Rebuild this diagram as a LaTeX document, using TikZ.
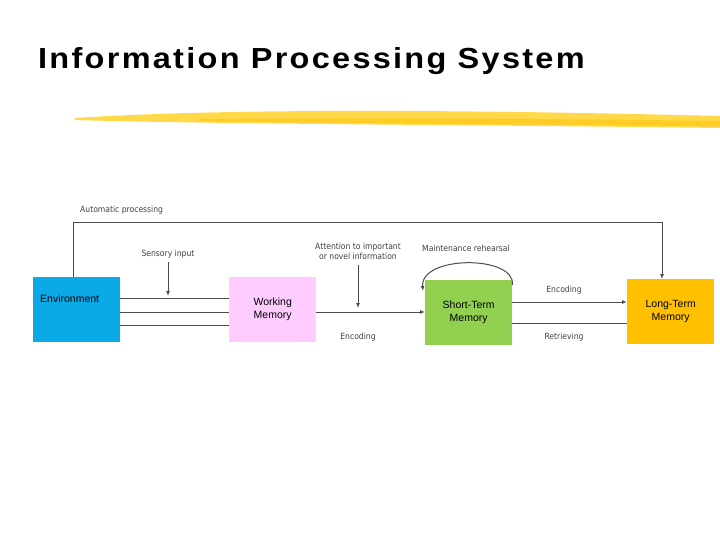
\documentclass[tikz,border=0pt]{standalone}
\usepackage{fontspec}
\setmainfont{Liberation Sans}
\newfontfamily\condfont{DejaVu Sans Condensed}
\usetikzlibrary{arrows.meta}
\definecolor{envc}{HTML}{0AAAE6}
\definecolor{wmc}{HTML}{FFCCFF}
\definecolor{stmc}{HTML}{92D050}
\definecolor{ltmc}{HTML}{FFC000}
\definecolor{brush}{HTML}{FFD94A}
\begin{document}
\begin{tikzpicture}[x=1pt,y=-1pt,
  box/.style={draw=none,minimum width=87pt,minimum height=65pt,inner sep=0pt,font=\fontsize{10.5}{13}\selectfont,align=center},
  lbl/.style={font=\fontsize{8.5}{10}\condfont,text=black!75,align=center,inner sep=0pt},
  ln/.style={draw=black!70,line width=1pt},
  ar/.style={ln,-{Latex[length=5pt,width=4pt]}}]
\useasboundingbox (0,0) rectangle (720,540);
\node[anchor=west,font=\fontsize{29}{32}\bfseries\selectfont,inner sep=0pt,xscale=1.12] (title) at (38,61) {\addfontfeature{LetterSpace=7}Information Processing System};
\fill[brush] (75,118) .. controls (200,110) and (400,108) .. (720,116) -- (720,128) .. controls (500,125) and (200,124) .. (75,120) -- cycle;
\fill[ltmc,opacity=0.5] (200,119) .. controls (350,118) and (500,118) .. (720,121) -- (720,126) .. controls (500,124) and (350,123) .. (200,121) -- cycle;
\node[box,fill=envc,anchor=north west] (env) at (33,277) {};
\node[anchor=north west,font=\fontsize{10.5}{13}\selectfont,inner sep=0pt] (envt) at (40,295) {Environment};
\node[box,fill=wmc,anchor=north west] (wm) at (229,277) {Working\\Memory};
\node[box,fill=stmc,anchor=north west] (stm) at (425,280) {Short-Term\\Memory};
\node[box,fill=ltmc,anchor=north west] (ltm) at (627,279) {Long-Term\\Memory};
\coordinate (a1) at (73,277); \coordinate (a2) at (73,223); \coordinate (a3) at (662,223);
\draw[ar] (a1) -- (a2) -- (a3) -- (ltm.north -| a3);
\node[lbl,anchor=west] (ap) at (80,210) {Automatic processing};
\draw[ln] (env.east |- 0,298) -- (wm.west |- 0,298);
\draw[ln] (env.east |- 0,312) -- (wm.west |- 0,312);
\draw[ln] (env.east |- 0,325) -- (wm.west |- 0,325);
\node[lbl] (si) at (168,254) {Sensory input};
\draw[ar] (si.south |- 0,262) -- (168,296);
\draw[ar] (wm.east |- 0,312) -- (stm.west |- 0,312);
\node[lbl] (att) at (358,251) {Attention to important\\or novel information};
\draw[ar] (358,265) -- (358,308);
\node[lbl] (enc1) at (358,337) {Encoding};
\draw[ar] (stm.north east) ++(0,5) .. controls (516,255) and (420,255) .. (423,291);
\node[lbl] (mr) at (466,248) {Maintenance rehearsal};
\draw[ar] (stm.east |- 0,302) -- (ltm.west |- 0,302);
\draw[ln] (stm.east |- 0,323) -- (ltm.west |- 0,323);
\node[lbl] (enc2) at (564,290) {Encoding};
\node[lbl] (ret) at (564,337) {Retrieving};
\end{tikzpicture}
\end{document}
